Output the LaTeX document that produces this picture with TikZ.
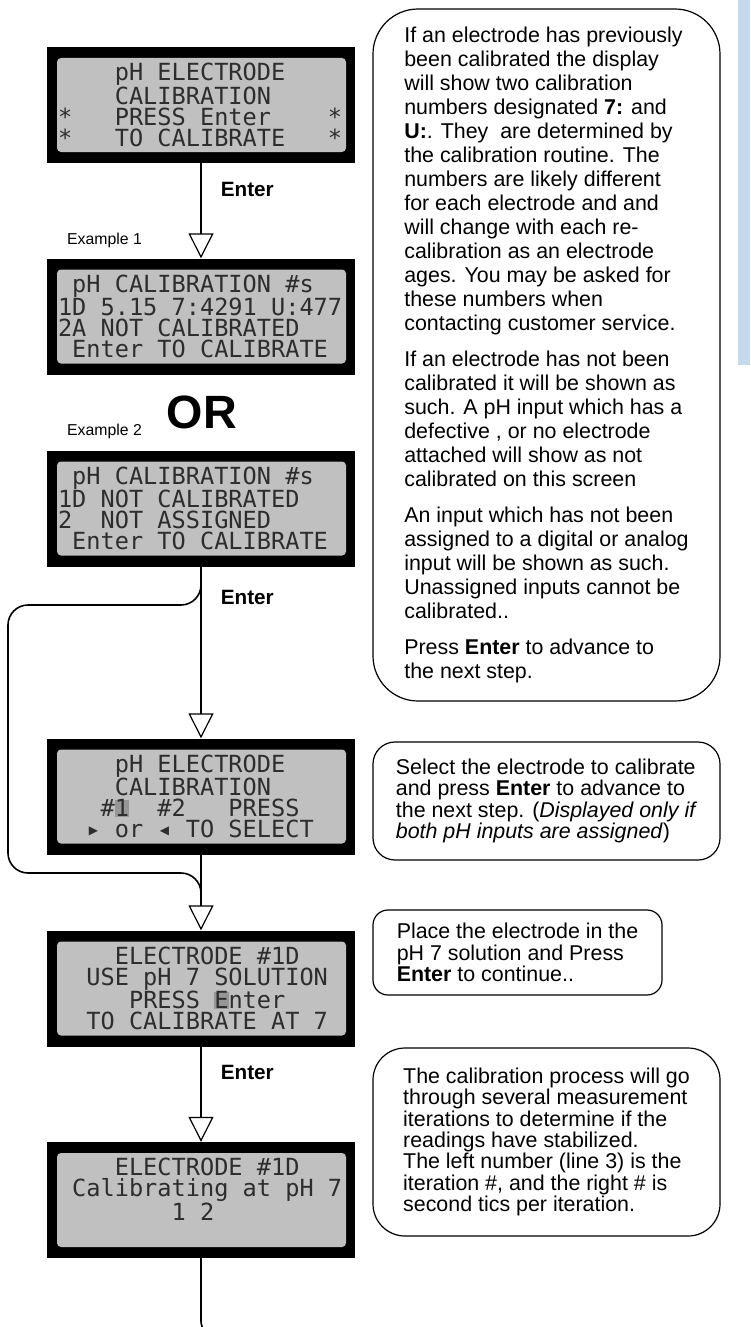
\documentclass[tikz,border=0pt]{standalone}
\usepackage{fontspec}
\setmainfont{Liberation Sans}
\newfontfamily\lcdfont{DejaVu Sans Mono}
\usetikzlibrary{shapes,arrows,arrows.meta,positioning}

\definecolor{lcdgray}{RGB}{192,192,192}
\definecolor{lcdink}{RGB}{45,45,45}
\definecolor{lcdcursor}{RGB}{150,150,150}
\definecolor{sidebar}{RGB}{197,216,236}

\newcommand{\lcdtext}{\lcdfont\fontsize{23.6}{21}\selectfont}
\newcommand{\notetext}{\fontsize{21.4}{24}\selectfont}
\newcommand{\pad}[1]{\hphantom{#1}}
\newcommand{\cur}[1]{{\setlength{\fboxsep}{0pt}\colorbox{lcdcursor}{\vphantom{E}#1}}}

\tikzstyle{lcd} = [rectangle, fill=black, minimum width=308pt, minimum height=116pt,
inner sep=0pt, text width=286pt, align=left, font=\lcdtext, text=lcdink,
path picture={\fill[lcdgray, rounded corners=4pt]
([xshift=10pt,yshift=-11pt]path picture bounding box.north west) rectangle
([xshift=-9pt,yshift=11pt]path picture bounding box.south east);}]
\tikzstyle{note} = [rectangle, draw, line width=1.2pt, align=left, inner sep=0pt,
font=\notetext]
\tikzstyle{line} = [draw, line width=1.6pt,
-{Triangle[open, length=25pt, width=25pt, line width=1.2pt]}]
\tikzstyle{bypass} = [draw, line width=1.6pt, rounded corners=20pt]
\tikzstyle{keylabel} = [anchor=west, inner sep=0pt, xshift=19pt,
font=\bfseries\fontsize{20.7}{24}\selectfont]
\tikzstyle{example} = [anchor=west, inner sep=0pt, font=\fontsize{15.8}{18}\selectfont]

\begin{document}
\begin{tikzpicture}[x=1pt, y=-1pt, node distance=200pt]
\useasboundingbox (0,0) rectangle (750,1327);
\fill [sidebar] (738,0) rectangle (750,365);

% Place nodes
\node [lcd] (start) at (201,105) {\pad{xxxx}pH\pad{x}ELECTRODE\\
\pad{xxxx}CALIBRATION\\
{*}\pad{xxx}PRESS\pad{x}Enter\pad{xxxx}*\\
{*}\pad{xxx}TO\pad{x}CALIBRATE\pad{xxx}*};
\node [lcd, below of=start, node distance=211.5pt] (numbers) {\pad{x}pH\pad{x}CALIBRATION\pad{x}\#s\\
1D\pad{x}5.15\pad{x}7:4291\pad{x}U:477\\
2A\pad{x}NOT\pad{x}CALIBRATED\\
\pad{x}Enter\pad{x}TO\pad{x}CALIBRATE};
\node [lcd, below of=numbers, node distance=192pt] (nocal) {\pad{x}pH\pad{x}CALIBRATION\pad{x}\#s\\
1D\pad{x}NOT\pad{x}CALIBRATED\\
2\pad{xx}NOT\pad{x}ASSIGNED\\
\pad{x}Enter\pad{x}TO\pad{x}CALIBRATE};
\node [lcd, below of=nocal, node distance=288pt] (select) {\pad{xxxx}pH\pad{x}ELECTRODE\\
\pad{xxxx}CALIBRATION\\
\pad{xxx}\#\cur{1}\pad{xx}\#2\pad{xxx}PRESS\\
\pad{xx}▸\pad{x}or\pad{x}◂\pad{x}TO\pad{x}SELECT};
\node [lcd, below of=select, node distance=192pt] (usesol) {\pad{xxxx}ELECTRODE\pad{x}\#1D\\
\pad{xx}USE\pad{x}pH\pad{x}7\pad{x}SOLUTION\\
\pad{xxxxx}PRESS\pad{x}\cur{E}nter\\
\pad{xx}TO\pad{x}CALIBRATE\pad{x}AT\pad{x}7};
\node [lcd, below of=usesol, node distance=211.5pt] (calib) {\pad{xxxx}ELECTRODE\pad{x}\#1D\\
\pad{x}Calibrating\pad{x}at\pad{x}pH\pad{x}7\\
\pad{xxxxxxxx}1\pad{x}2\\
\mbox{}};

\node [example] (ex1) at (67,240) {Example 1};
\node [example] (ex2) at (67,431) {Example 2};
\node [inner sep=0pt, font=\bfseries\fontsize{46.7}{50}\selectfont] (or) at (202,412) {OR};

\node [note, minimum width=347pt, minimum height=692pt, rounded corners=45pt] (info) at (546.5,355)
{If an electrode has previously\\
been calibrated the display\\
will show two calibration\\
numbers designated \textbf{7:} and\\
\textbf{U:}. They\ \ are determined by\\
the calibration routine. The\\
numbers are likely different\\
for each electrode and and\\
will change with each re-\\
calibration as an electrode\\
ages. You may be asked for\\
these numbers when\\
contacting customer service.\\[12pt]
If an electrode has not been\\
calibrated it will be shown as\\
such. A pH input which has a\\
defective , or no electrode\\
attached will show as not\\
calibrated on this screen\\[12pt]
An input which has not been\\
assigned to a digital or analog\\
input will be shown as such.\\
Unassigned inputs cannot be\\
calibrated..\\[12pt]
Press \textbf{Enter} to advance to\\
the next step.};
\node [note, minimum width=347pt, minimum height=118pt, rounded corners=22pt,
font=\fontsize{21.4}{21.3}\selectfont] (selnote) at (546.5,801)
{Select the electrode to calibrate\\
and press \textbf{Enter} to advance to\\
the next step. (\textit{Displayed only if}\\
\textit{both pH inputs are assigned})};
\node [note, minimum width=289pt, minimum height=85pt, rounded corners=15pt,
font=\fontsize{21.4}{21.3}\selectfont] (solnote) at (517.5,952.5)
{Place the electrode in the\\
pH 7 solution and Press\\
\textbf{Enter} to continue..};
\node [note, minimum width=347pt, minimum height=188pt, rounded corners=32pt,
font=\fontsize{21.4}{21.3}\selectfont] (calnote) at (546.5,1142)
{The calibration process will go\\
through several measurement\\
iterations to determine if the\\
readings have stabilized.\\
The left number (line 3) is the\\
iteration \#, and the right \# is\\
second tics per iteration.};

\coordinate (loopa) at (8,605);
\coordinate (loopb) at (8,873);
\coordinate (exit) at (240,1336);

% Draw edges
\path [line] (start) -- node [keylabel, pos=0.28] (enter1) {Enter} (numbers);
\path [line] (nocal) -- node [keylabel, pos=0.18] (enter2) {Enter} (select);
\path [line] (select) -- (usesol);
\path [line] (usesol) -- node [keylabel, pos=0.27] (enter3) {Enter} (calib);
\path [bypass] (nocal.south) |- (loopa) -- (loopb) -| ([yshift=-40pt]select.south);
\path [bypass, rounded corners=15pt] (calib.south) |- (exit);
\end{tikzpicture}
\end{document}
